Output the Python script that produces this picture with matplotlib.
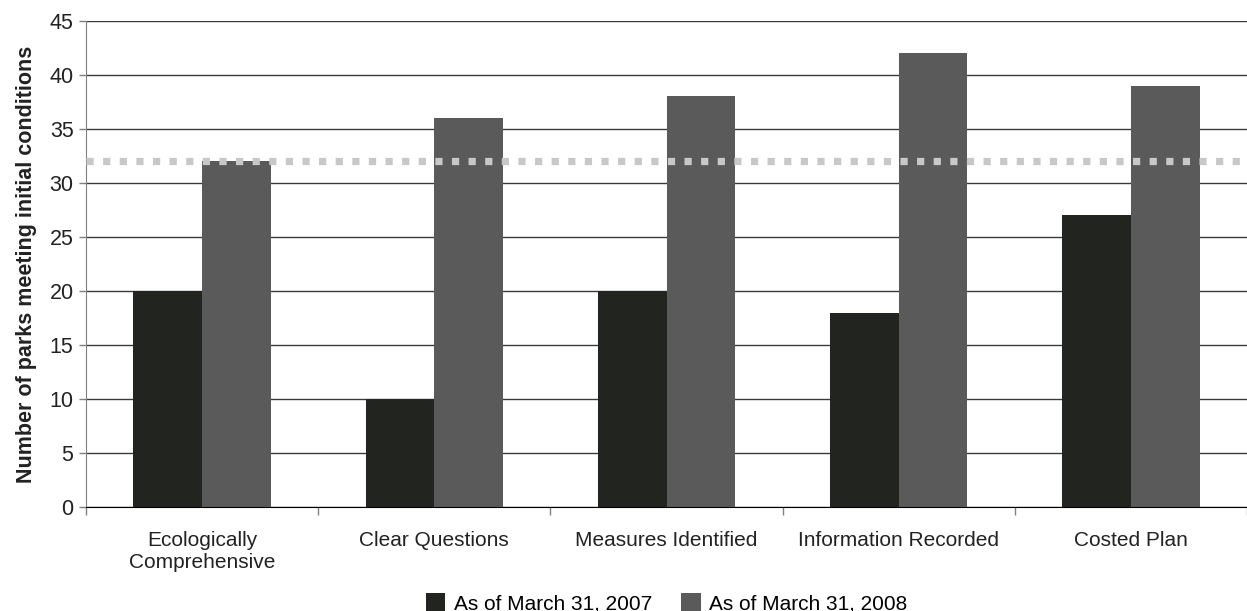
import matplotlib
matplotlib.use("Agg")
import matplotlib.pyplot as plt
import numpy as np

categories = ["Ecologically\nComprehensive", "Clear Questions", "Measures Identified",
              "Information Recorded", "Costed Plan"]
values_2007 = [20, 10, 20, 18, 27]
values_2008 = [32, 36, 38, 42, 39]
target = 32
series_labels = ["As of March 31, 2007", "As of March 31, 2008"]

plt.rcParams["font.family"] = ["Liberation Sans", "DejaVu Sans"]

fig = plt.figure(figsize=(12.47, 6.11), dpi=100)
ax_left, ax_w = 0.069, 0.931
ax = fig.add_axes([ax_left, 0.170, ax_w, 0.796])

x = np.arange(len(categories))
w = 0.296
b1 = ax.bar(x - w / 2, values_2007, width=w, color="#22241f", zorder=2,
            label=series_labels[0])
b2 = ax.bar(x + w / 2, values_2008, width=w, color="#5a5a5a", zorder=2,
            label=series_labels[1])

# Referenslinje
ax.axhline(target, color="#c8c8c8", linewidth=5.2, linestyle=(0, (1, 1.3)),
           dash_capstyle="butt", zorder=3)

ax.set_xlim(-0.5, len(categories) - 0.5)
ax.set_ylim(0, 45)
ax.set_yticks(range(0, 46, 5))
ax.yaxis.grid(True, color="#3a3a3a", linewidth=1.0, zorder=0)
ax.set_axisbelow(True)

ax.set_xticks(x)
ax.set_xticklabels(categories, fontsize=15, color="#222222", linespacing=1.2)
ax.set_xticks(np.arange(len(categories) + 1) - 0.5, minor=True)
ax.tick_params(axis="x", which="major", length=0, pad=17)
ax.tick_params(axis="x", which="minor", length=6, color="#808080", width=1)
ax.tick_params(axis="y", labelsize=15.5, colors="#222222", length=5, width=1, pad=4)
ax.tick_params(axis="y", color="#808080")

ax.set_ylabel("Number of parks meeting initial conditions", fontsize=15.5,
              fontweight="bold", color="#222222", labelpad=9)

ax.spines["top"].set_visible(False)
ax.spines["right"].set_visible(False)
ax.spines["left"].set_color("#808080")
ax.spines["bottom"].set_color("#000000")

fig.legend(handles=[b1, b2], loc="lower center",
           bbox_to_anchor=(ax_left + ax_w / 2, -0.004),
           ncol=2, frameon=False, fontsize=15, handlelength=0.95,
           handleheight=0.95, handletextpad=0.4, columnspacing=1.4,
           borderaxespad=0, borderpad=0)

fig.savefig("out.png", dpi=100)
